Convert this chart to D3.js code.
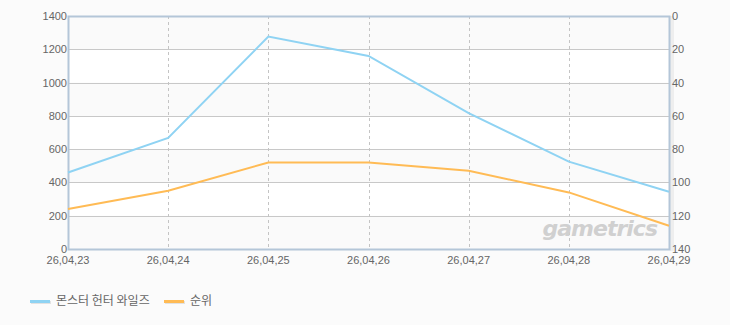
<!DOCTYPE html>
<html>
<head>
<meta charset="utf-8">
<script src="https://cdn.jsdelivr.net/npm/d3@7"></script>
<style>
    body { margin: 0; background: #fbfbfb; font-family: "Liberation Sans", Arial, sans-serif; }
    svg text { fill: #666; }
</style>
</head>
<body>
<div id="chart"></div>
<script>
const dates = ['26,04,23', '26,04,24', '26,04,25', '26,04,26', '26,04,27', '26,04,28', '26,04,29']
const players = [460, 667, 1276, 1160, 817, 525, 344]
const ranks = [116, 105, 88, 88, 93, 106, 126]
const leftTicks = [0, 200, 400, 600, 800, 1000, 1200, 1400]
const rightTicks = [0, 20, 40, 60, 80, 100, 120, 140]
const seriesNames = ['몬스터 헌터 와일즈', '순위']

const width = 730, height = 325
const margin = { top: 16, right: 61, bottom: 76, left: 68 }
const innerW = width - margin.left - margin.right
const innerH = height - margin.top - margin.bottom
const blue = '#8fd3f3', orange = '#ffbb55'

const svg = d3.select('#chart').append('svg')
    .attr('width', width)
    .attr('height', height)

const x = d3.scalePoint().domain(dates).range([margin.left, margin.left + innerW])
const yLeft = d3.scaleLinear().domain([0, 1400]).range([margin.top + innerH, margin.top])
const yRight = d3.scaleLinear().domain([0, 140]).range([margin.top, margin.top + innerH])

// alternating bands
const bands = leftTicks.slice(0, -1)
svg.append('g').selectAll('rect').data(bands).enter().append('rect')
    .attr('x', margin.left)
    .attr('width', innerW)
    .attr('y', d => yLeft(d + 200))
    .attr('height', d => yLeft(d) - yLeft(d + 200))
    .attr('fill', (d, i) => i % 2 === 0 ? '#fafafa' : '#ffffff')

// horizontal grid
svg.append('g').selectAll('line').data(leftTicks.slice(1, -1)).enter().append('line')
    .attr('x1', margin.left).attr('x2', margin.left + innerW)
    .attr('y1', d => Math.round(yLeft(d)) + 0.5).attr('y2', d => Math.round(yLeft(d)) + 0.5)
    .attr('stroke', '#c8c8c8')

// vertical dashed grid
svg.append('g').selectAll('line').data(dates.slice(1, -1)).enter().append('line')
    .attr('x1', d => Math.round(x(d)) + 0.5).attr('x2', d => Math.round(x(d)) + 0.5)
    .attr('y1', margin.top).attr('y2', margin.top + innerH)
    .attr('stroke', '#c4c4c4')
    .attr('stroke-dasharray', '3,3')

// watermark
svg.append('text')
    .attr('x', 657).attr('y', 236)
    .attr('text-anchor', 'end')
    .style('font-family', '"DejaVu Sans", sans-serif')
    .style('font-size', '22px')
    .style('font-weight', 'bold')
    .style('font-style', 'italic')
    .style('letter-spacing', '-1px')
    .style('fill', '#d0d0d0')
    .text('gametrics')

// right side shadow
svg.append('rect')
    .attr('x', margin.left + innerW + 1).attr('y', margin.top)
    .attr('width', 4).attr('height', innerH + 2)
    .attr('fill', '#eeeeee')

// frame
svg.append('rect')
    .attr('x', margin.left + 0.5).attr('y', margin.top + 0.5)
    .attr('width', innerW).attr('height', innerH)
    .attr('fill', 'none')
    .attr('stroke', '#b4c6d8')
    .attr('stroke-width', 2)

// lines
const linePlayers = d3.line().x((d, i) => x(dates[i])).y(d => yLeft(d))
const lineRanks = d3.line().x((d, i) => x(dates[i])).y(d => yRight(d))

svg.append('path').datum(players)
    .attr('d', linePlayers)
    .attr('fill', 'none')
    .attr('stroke', blue)
    .attr('stroke-width', 2)

svg.append('path').datum(ranks)
    .attr('d', lineRanks)
    .attr('fill', 'none')
    .attr('stroke', orange)
    .attr('stroke-width', 2)

// axes labels
const axisFont = '11px'
svg.append('g').selectAll('text').data(leftTicks).enter().append('text')
    .attr('x', margin.left - 1)
    .attr('y', d => yLeft(d) + 4)
    .attr('text-anchor', 'end')
    .style('font-size', axisFont)
    .text(d => d)

svg.append('g').selectAll('text').data(rightTicks).enter().append('text')
    .attr('x', margin.left + innerW + 3)
    .attr('y', d => yRight(d) + 4)
    .style('font-size', axisFont)
    .text(d => d)

svg.append('g').selectAll('text').data(dates).enter().append('text')
    .attr('x', d => x(d))
    .attr('y', margin.top + innerH + 15)
    .attr('text-anchor', 'middle')
    .style('font-size', axisFont)
    .text(d => d)

// legend
const legend = svg.append('g')
const legendX = [30, 164]
const colors = [blue, orange]
seriesNames.forEach((name, i) => {
    legend.append('rect')
        .attr('x', legendX[i] + 1).attr('y', 301)
        .attr('width', 20).attr('height', 3)
        .attr('fill', '#e2e2e2')
    legend.append('rect')
        .attr('x', legendX[i]).attr('y', 300)
        .attr('width', 20).attr('height', 3)
        .attr('fill', colors[i])
    legend.append('text')
        .attr('x', legendX[i] + 26)
        .attr('y', 305)
        .style('font-family', '"Noto Sans CJK KR", sans-serif')
        .style('font-size', '12px')
        .text(name)
})
</script>
</body>
</html>
